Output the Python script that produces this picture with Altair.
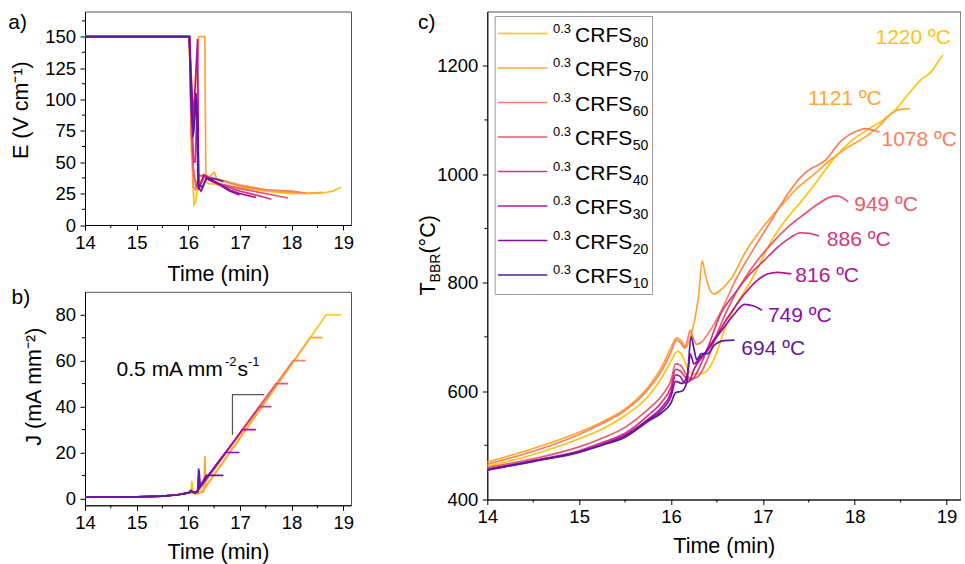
import altair as alt
import pandas as pd

FONT = "Liberation Sans"

# Series (current-density set point, mA mm^-2) and their colours
SERIES = ["80", "70", "60", "50", "40", "30", "20", "10"]
COLORS = ["#ffc40f", "#ffa534", "#f9815f", "#e55a6d", "#d0387f", "#b0178f", "#8b0ca6", "#5b1b9d"]

X_TICKS = [14, 15, 16, 17, 18, 19]
X_MINOR = [14.5, 15.5, 16.5, 17.5, 18.5]
E_TICKS = [0, 25, 50, 75, 100, 125, 150]
E_MINOR = [12.5, 37.5, 62.5, 87.5, 112.5, 137.5, 162.5]
J_TICKS = [0, 20, 40, 60, 80]
J_MINOR = [10, 30, 50, 70]
T_TICKS = [400, 600, 800, 1000, 1200]
T_MINOR = [500, 700, 900, 1100]

# a) electric field E (V cm^-1) vs time (min)
E_80 = [(14.0, 150), (16.02, 150), (16.06, 60), (16.11, 16), (16.14, 18), (16.19, 33), (16.25, 36), (16.4, 33),
        (16.6, 32), (17.0, 30), (17.5, 27), (18.0, 25), (18.3, 25.5), (18.6, 25.5), (18.8, 27), (18.96, 30)]
E_70 = [(14.0, 150), (16.03, 150), (16.1, 80), (16.2, 150), (16.32, 150), (16.34, 36), (16.4, 38), (16.5, 42),
        (16.55, 37), (16.8, 34), (17.0, 32), (17.5, 28), (18.0, 26), (18.3, 25), (18.6, 26)]
E_60 = [(14.0, 150), (16.02, 150), (16.06, 80), (16.1, 30), (16.14, 28), (16.2, 38), (16.3, 40), (16.5, 37),
        (17.0, 31), (17.5, 28), (18.0, 27), (18.27, 25.5)]
E_50 = [(14.0, 150), (16.02, 150), (16.06, 70), (16.1, 45), (16.15, 30), (16.2, 40), (16.35, 38), (16.6, 33),
        (17.0, 29), (17.5, 25), (17.93, 21.5)]
E_40 = [(14.0, 150), (16.02, 150), (16.07, 90), (16.1, 50), (16.13, 50), (16.18, 100), (16.2, 28), (16.3, 38),
        (16.5, 34), (17.0, 27), (17.3, 24), (17.61, 20.5)]
E_30 = [(14.0, 150), (16.02, 150), (16.05, 120), (16.1, 85), (16.18, 148), (16.2, 28), (16.3, 40), (16.5, 35),
        (16.8, 28), (17.0, 25), (17.31, 22)]
E_20 = [(14.0, 150), (16.02, 150), (16.06, 110), (16.09, 70), (16.15, 105), (16.19, 30), (16.25, 27), (16.35, 37),
        (16.6, 32), (16.8, 27), (16.99, 24)]
E_10 = [(14.0, 150), (16.02, 150), (16.06, 90), (16.1, 72), (16.15, 100), (16.18, 85), (16.2, 32), (16.27, 30),
        (16.35, 37), (16.5, 37), (16.68, 34.5)]

# b) current density J (mA mm^-2) vs time (min)
J_80 = [(14.0, 0.5), (15.0, 0.7), (15.5, 1.0), (15.8, 1.6), (16.0, 2.4), (16.05, 2.6), (16.07, 7.7), (16.09, 2.5),
        (16.18, 2.0), (16.3, 4.0), (18.67, 80), (18.96, 80)]
J_70 = [(14.0, 0.5), (15.0, 0.7), (15.5, 1.0), (15.8, 1.6), (16.0, 2.4), (16.05, 2.5), (16.15, 2.0), (16.3, 3.0),
        (16.32, 18.5), (16.34, 5.0), (18.36, 70), (18.6, 70)]
J_60 = [(14.0, 0.5), (15.0, 0.7), (15.5, 1.0), (15.8, 1.6), (16.0, 2.4), (16.06, 3.0), (16.15, 2.5), (16.22, 4.0),
        (18.03, 60), (18.27, 60)]
J_50 = [(14.0, 0.5), (15.0, 0.7), (15.5, 1.0), (15.8, 1.6), (16.0, 2.4), (16.06, 3.0), (16.15, 2.5), (16.2, 4.0),
        (17.7, 50), (17.93, 50)]
J_40 = [(14.0, 0.5), (15.0, 0.7), (15.5, 1.0), (15.8, 1.6), (16.0, 2.4), (16.06, 3.2), (16.15, 2.5), (16.2, 4.0),
        (17.38, 40), (17.61, 40)]
J_30 = [(14.0, 0.5), (15.0, 0.7), (15.5, 1.0), (15.8, 1.6), (16.0, 2.4), (16.06, 3.0), (16.14, 2.5), (16.2, 4.0),
        (17.05, 30), (17.31, 30)]
J_20 = [(14.0, 0.5), (15.0, 0.7), (15.5, 1.0), (15.8, 1.6), (16.0, 2.4), (16.05, 3.2), (16.12, 2.5), (16.19, 3.0),
        (16.21, 12), (16.23, 5.5), (16.72, 20), (16.99, 20)]
J_10 = [(14.0, 0.5), (15.0, 0.7), (15.5, 1.0), (15.8, 1.6), (16.0, 2.4), (16.05, 3.5), (16.1, 2.5), (16.18, 3.0),
        (16.2, 13), (16.22, 5.0), (16.35, 10), (16.68, 10)]

# slope guide drawn next to the ramp in b)
SLOPE_GUIDE = [(16.855, 27.6), (16.855, 45.2), (17.47, 45.2)]

# c) black-body-radiation temperature (°C) vs time (min)
T_80 = [(14.0, 461), (14.5, 483), (15.0, 512), (15.25, 530), (15.5, 555), (15.75, 590), (15.9, 625), (16.0, 655),
        (16.07, 673), (16.13, 663), (16.18, 641), (16.24, 632), (16.33, 632), (16.43, 646), (16.5, 672),
        (16.58, 712), (16.72, 761), (16.91, 815), (17.09, 876), (17.27, 920), (17.41, 948), (17.59, 987),
        (17.78, 1030), (17.96, 1061), (18.14, 1082), (18.32, 1101), (18.46, 1122), (18.61, 1153), (18.72, 1174),
        (18.84, 1190), (18.9, 1205), (18.96, 1220)]
T_70 = [(14.0, 469), (14.5, 494), (15.0, 524), (15.25, 543), (15.5, 567), (15.75, 607), (15.9, 645), (16.0, 680),
        (16.06, 698), (16.11, 693), (16.16, 681), (16.2, 693), (16.24, 718), (16.27, 742), (16.3, 775),
        (16.34, 840), (16.37, 818), (16.41, 792), (16.47, 779), (16.55, 788), (16.65, 806), (16.83, 862),
        (17.0, 902), (17.2, 942), (17.38, 975), (17.56, 1000), (17.74, 1027), (17.92, 1049), (18.1, 1067),
        (18.25, 1086), (18.39, 1110), (18.48, 1119), (18.6, 1121)]
T_60 = [(14.0, 465), (14.5, 489), (15.0, 520), (15.25, 540), (15.5, 564), (15.75, 603), (15.9, 638), (16.0, 672),
        (16.06, 694), (16.1, 690), (16.15, 679), (16.18, 695), (16.21, 712), (16.24, 698), (16.28, 686),
        (16.33, 690), (16.4, 705), (16.51, 736), (16.72, 810), (16.91, 865), (17.09, 914), (17.27, 963),
        (17.41, 994), (17.52, 1010), (17.58, 1015), (17.67, 1024), (17.85, 1061), (18.03, 1080), (18.12, 1084),
        (18.2, 1081), (18.27, 1078)]
T_50 = [(14.0, 459), (14.5, 475), (15.0, 497), (15.25, 513), (15.5, 533), (15.75, 566), (15.9, 592), (16.0, 620),
        (16.05, 650), (16.1, 648), (16.16, 632), (16.22, 623), (16.29, 626), (16.4, 660), (16.5, 705),
        (16.6, 745), (16.72, 785), (16.91, 834), (17.09, 871), (17.27, 902), (17.45, 926), (17.6, 945),
        (17.74, 958), (17.81, 960), (17.93, 949)]
T_40 = [(14.0, 456), (14.5, 472), (15.0, 490), (15.25, 505), (15.5, 522), (15.75, 555), (15.9, 580), (16.0, 608),
        (16.05, 640), (16.1, 637), (16.16, 625), (16.22, 620), (16.3, 640), (16.4, 680), (16.54, 742),
        (16.69, 779), (16.83, 810), (17.01, 840), (17.16, 865), (17.3, 883), (17.41, 892), (17.5, 891),
        (17.61, 886)]
T_30 = [(14.0, 455), (14.5, 471), (15.0, 488), (15.25, 502), (15.5, 519), (15.75, 548), (15.9, 570), (16.0, 598),
        (16.05, 630), (16.1, 627), (16.15, 615), (16.2, 618), (16.25, 640), (16.35, 665), (16.51, 706),
        (16.62, 736), (16.72, 761), (16.83, 785), (16.94, 804), (17.05, 816), (17.16, 819), (17.31, 816)]
T_20 = [(14.0, 455), (14.5, 471), (15.0, 488), (15.25, 501), (15.5, 516), (15.75, 546), (15.9, 565), (16.0, 590),
        (16.05, 618), (16.12, 614), (16.18, 630), (16.21, 668), (16.25, 650), (16.32, 663), (16.4, 675),
        (16.47, 693), (16.58, 718), (16.69, 742), (16.8, 760), (16.9, 757), (16.99, 749)]
T_10 = [(14.0, 454), (14.5, 470), (15.0, 487), (15.25, 500), (15.5, 515), (15.75, 544), (15.9, 560), (16.0, 578),
        (16.05, 597), (16.12, 600), (16.17, 615), (16.22, 700), (16.25, 678), (16.28, 658), (16.33, 669),
        (16.4, 669), (16.47, 684), (16.58, 693), (16.69, 694)]

E_DATA = [E_80, E_70, E_60, E_50, E_40, E_30, E_20, E_10]
J_DATA = [J_80, J_70, J_60, J_50, J_40, J_30, J_20, J_10]
T_DATA = [T_80, T_70, T_60, T_50, T_40, T_30, T_20, T_10]

# end-of-curve label placement in c): (align, dx, dy) in pixels
LABEL_STYLE = [("right", 8, -17), ("right", -28, -10), ("left", 2, 8), ("left", 6, 3),
               ("left", 8, 4), ("left", 4, 2), ("left", 6, 6), ("left", 7, 9)]

# panel geometry (plot areas, px)
AB_W, AB_H = 266, 213.5
C_W, C_H = 473, 488
X_DOMAIN = [14, 19.15]
LINE_W = 1.7


def frame(points):
    return pd.DataFrame({"t": [p[0] for p in points], "v": [p[1] for p in points],
                         "i": list(range(len(points)))})


def panel(datasets, y_domain, y_ticks, y_minor, y_title, title_x, title_y, w, h, time_dy, extra,
          interp="linear"):
    xs = alt.Scale(domain=X_DOMAIN, nice=False, zero=False)
    ys = alt.Scale(domain=y_domain, nice=False, zero=False)
    # axis-title offsets are measured from the axis line
    xa = alt.Axis(values=X_TICKS, format="d", title="Time (min)", titleX=w / 2, titleY=time_dy,
                  titleBaseline="alphabetic", titleAlign="center", labelPadding=3)
    if y_title:
        ya = alt.Axis(values=y_ticks, format="d", title=y_title, titleAngle=270, titleX=title_x,
                      titleY=title_y, titleAlign="center", titleBaseline="alphabetic", labelPadding=4.5)
    else:
        ya = alt.Axis(values=y_ticks, format="d", title=None, labelPadding=4.5)
    X = lambda f: alt.X(f, scale=xs, axis=xa)
    Y = lambda f: alt.Y(f, scale=ys, axis=ya)

    layers = []
    for pts, col in zip(datasets, COLORS):
        layers.append(alt.Chart(frame(pts)).mark_line(color=col, strokeWidth=LINE_W, interpolate=interp)
                      .encode(x=X("t:Q"), y=Y("v:Q"), order="i:Q"))
    # minor ticks on both axes
    layers.append(alt.Chart(pd.DataFrame({"m": X_MINOR})).mark_rule(color="black", strokeWidth=1)
                  .encode(x=X("m:Q"), y=alt.value(h), y2=alt.value(h + 3)))
    layers.append(alt.Chart(pd.DataFrame({"m": y_minor})).mark_rule(color="black", strokeWidth=1)
                  .encode(y=Y("m:Q"), x=alt.value(0), x2=alt.value(-3)))
    layers += extra(X, Y)
    return alt.layer(*layers).properties(width=w, height=h)


def text_at(txt, x, y, size, **kw):
    return (alt.Chart(pd.DataFrame({"s": [txt]}))
            .mark_text(align=kw.pop("align", "left"), baseline=kw.pop("baseline", "alphabetic"),
                       font=FONT, fontSize=size, color=kw.pop("color", "black"), **kw)
            .encode(text="s:N", x=alt.value(x), y=alt.value(y)))


def extra_a(X, Y):
    return [text_at("a)", -76.7, 17.3, 21)]


def extra_b(X, Y):
    guide = (alt.Chart(frame(SLOPE_GUIDE)).mark_line(color="#555", strokeWidth=1.2)
             .encode(x=X("t:Q"), y=Y("v:Q"), order="i:Q"))
    return [guide,
            text_at("b)", -73.4, 11.7, 21),
            text_at("0.5 mA mm", 31.6, 84.4, 21),
            text_at("-2", 140, 74.5, 13),
            text_at("s", 152.6, 84.4, 21),
            text_at("-1", 163, 74.5, 13)]


def extra_c(X, Y):
    out = []
    for pts, col, (al, dx, dy) in zip(T_DATA, COLORS, LABEL_STYLE):
        t_end, v_end = pts[-1]
        lab = pd.DataFrame({"t": [t_end], "v": [v_end], "s": [f"{v_end} ºC"]})
        out.append(alt.Chart(lab).mark_text(align=al, baseline="middle", dx=dx, dy=dy, font=FONT,
                                            fontSize=21, color=col)
                   .encode(x=X("t:Q"), y=Y("v:Q"), text="s:N"))
    # legend box
    out.append(alt.Chart(pd.DataFrame({"k": [0]})).mark_rect(fill="white", stroke="#9a9a9a", strokeWidth=1)
               .encode(x=alt.value(7.9), x2=alt.value(165.3), y=alt.value(5), y2=alt.value(283)))
    leg = (alt.Chart(pd.DataFrame({"name": SERIES, "color": COLORS, "row": list(range(len(SERIES)))}))
           .transform_calculate(ly="22 + datum.row * 34.5", sy="21 + datum.row * 34.5",
                                cy="30.3 + datum.row * 34.5", by="35.3 + datum.row * 34.5"))
    out.append(leg.mark_rule(strokeWidth=LINE_W)
               .encode(x=alt.value(10.7), x2=alt.value(60), y=alt.Y("ly:Q", scale=None),
                       color=alt.Color("color:N", scale=None)))
    out.append(leg.mark_text(align="left", baseline="alphabetic", font=FONT, fontSize=13, color="black")
               .encode(x=alt.value(65.6), y=alt.Y("sy:Q", scale=None), text=alt.value("0.3")))
    out.append(leg.mark_text(align="left", baseline="alphabetic", font=FONT, fontSize=21, color="black")
               .encode(x=alt.value(87.8), y=alt.Y("cy:Q", scale=None), text=alt.value("CRFS")))
    out.append(leg.mark_text(align="left", baseline="alphabetic", font=FONT, fontSize=14, color="black")
               .encode(x=alt.value(145.5), y=alt.Y("by:Q", scale=None), text="name:N"))
    # panel letter and the y title T_BBR(°C), written bottom-to-top
    out.append(text_at("c)", -69.3, 17, 21))
    out.append(text_at("T", -52.3, 284, 21.5, angle=270))
    out.append(text_at("BBR", -47.3, 270.9, 14, angle=270))
    out.append(text_at("(°C)", -52.3, 242.1, 21.5, angle=270))
    return out


pa = panel(E_DATA, [0, 170], E_TICKS, E_MINOR, "E (V cm⁻¹)", -57.2, 98.1, AB_W, AB_H, 55.5, extra_a)
pb = panel(J_DATA, [-3, 90], J_TICKS, J_MINOR, "J (mA mm⁻²)", -44.7, 94.4, AB_W, AB_H, 53, extra_b)
pc = panel(T_DATA, [400, 1300], T_TICKS, T_MINOR, None, 0, 0, C_W, C_H, 53, extra_c, interp="monotone")

# the nested column counts as zero width in a flush layout, so the gap spans its plot width too
left = alt.vconcat(pa, pb, spacing=66.3, bounds="flush")
chart = (alt.hconcat(left, pc, spacing=AB_W + 136.3, bounds="flush")
         .properties(padding={"left": 7, "top": 10.5, "right": 0, "bottom": 0}, background="white")
         .configure_axis(labelFont=FONT, titleFont=FONT, labelFontSize=18.5, titleFontSize=21.5,
                         labelColor="black", titleColor="black", titleFontWeight="normal",
                         tickColor="black", domainColor="black", tickSize=5, grid=False,
                         labelFlush=False)
         .configure_view(stroke="#555", strokeWidth=1))

chart.save("out.html", embed_options={"renderer": "svg", "actions": False})
